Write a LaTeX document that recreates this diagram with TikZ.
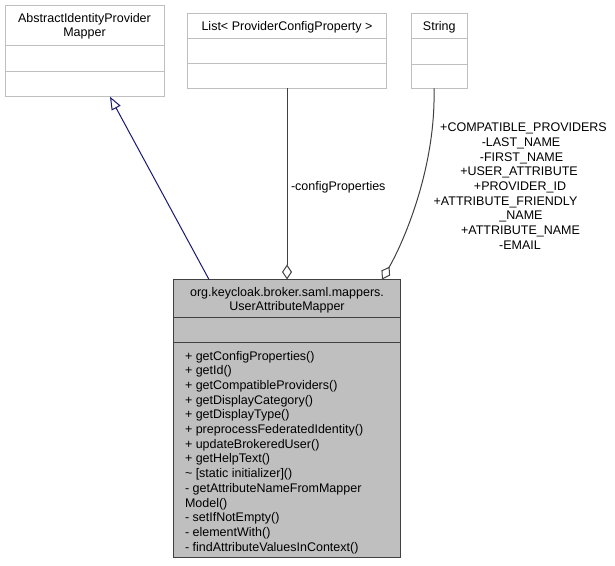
\documentclass[tikz,border=0pt]{standalone}
\usepackage{fontspec}
\setmainfont{Liberation Sans}
\usetikzlibrary{arrows.meta}
\definecolor{boxgray}{HTML}{BFBFBF}
\definecolor{darkline}{HTML}{404040}
\definecolor{inhblue}{HTML}{191970}
\begin{document}
\begin{tikzpicture}[x=1pt,y=-1pt,
  lbl/.style={inner sep=0pt, outer sep=0pt, font=\fontsize{12.5}{14.7}\selectfont},
  cls/.style={rectangle, draw=boxgray, fill=white, line width=1pt, inner sep=0pt, outer sep=0pt, anchor=north west},
  mainbox/.style={rectangle, draw=darkline, fill=boxgray, line width=1.6pt, inner sep=0pt, outer sep=0pt, anchor=north west},
  sep/.style={draw=boxgray, line width=1pt},
  mainsep/.style={draw=darkline, line width=1.4pt},
  inh/.style={draw=inhblue, line width=1pt, -{Triangle[length=13pt, width=10pt, fill=white]}},
  comp/.style={draw=darkline, line width=1pt, {Diamond[length=15pt, width=10pt, fill=white]}-},
]
\useasboundingbox (0,0) rectangle (615,565);

% class boxes
\node[cls, minimum width=159pt, minimum height=91.7pt] (abs) at (5,5) {};
\draw[sep] (abs.west |- 0,45.7) -- (abs.east |- 0,45.7);
\draw[sep] (abs.west |- 0,71) -- (abs.east |- 0,71);
\node[lbl, anchor=base] (absA) at (84.5,22) {AbstractIdentityProvider};
\node[lbl, anchor=base] (absB) at (84.5,36.7) {Mapper};

\node[cls, minimum width=199.4pt, minimum height=75pt] (list) at (187.3,13.3) {};
\draw[sep] (list.west |- 0,38.3) -- (list.east |- 0,38.3);
\draw[sep] (list.west |- 0,63.3) -- (list.east |- 0,63.3);
\node[lbl, anchor=base] (listA) at (287,30) {List< ProviderConfigProperty >};

\node[cls, minimum width=56.7pt, minimum height=75pt] (str) at (411,13.3) {};
\draw[sep] (str.west |- 0,38.3) -- (str.east |- 0,38.3);
\draw[sep] (str.west |- 0,64) -- (str.east |- 0,64);
\node[lbl, anchor=base] (strA) at (439.3,30) {String};

\node[mainbox, minimum width=227pt, minimum height=278pt] (main) at (173.5,279.5) {};
\draw[mainsep] (main.west |- 0,317.7) -- (main.east |- 0,317.7);
\draw[mainsep] (main.west |- 0,342.7) -- (main.east |- 0,342.7);
\node[lbl, anchor=base] (mainA) at (287,296) {org.keycloak.broker.saml.mappers.};
\node[lbl, anchor=base] (mainB) at (287,310.5) {UserAttributeMapper};

\foreach \t [count=\i from 0] in {
  {+ getConfigProperties()},
  {+ getId()},
  {+ getCompatibleProviders()},
  {+ getDisplayCategory()},
  {+ getDisplayType()},
  {+ preprocessFederatedIdentity()},
  {+ updateBrokeredUser()},
  {+ getHelpText()},
  {\textasciitilde{} [static initializer]()},
  {- getAttributeNameFromMapper},
  {Model()},
  {- setIfNotEmpty()},
  {- elementWith()},
  {- findAttributeValuesInContext()}}
  \node[lbl, anchor=base west] (m\i) at (185,{360+14.7*\i}) {\t};

% connectors
\draw[inh] (main.north -| 209,0) -- (abs.south -| 110,0);
\draw[comp] (main.north) -- (list.south);
\draw[comp] (main.north -| 382,0) .. controls (402,245) and (436,170) .. (str.south -| 434,0);

% labels
\node[lbl, anchor=base west] (cp) at (291,190.7) {-configProperties};
\node[lbl, anchor=base] (s1) at (523.5,131.7) {+COMPATIBLE\_PROVIDERS};
\node[lbl, anchor=base] (s2) at (521,146.4) {-LAST\_NAME};
\node[lbl, anchor=base] (s3) at (521.5,161) {-FIRST\_NAME};
\node[lbl, anchor=base] (s4) at (519,175.7) {+USER\_ATTRIBUTE};
\node[lbl, anchor=base] (s5) at (520,190.3) {+PROVIDER\_ID};
\node[lbl, anchor=base] (s6) at (505.5,205) {+ATTRIBUTE\_FRIENDLY};
\node[lbl, anchor=base] (s7) at (521,219.7) {\_NAME};
\node[lbl, anchor=base] (s8) at (520.5,234.3) {+ATTRIBUTE\_NAME};
\node[lbl, anchor=base] (s9) at (520,249) {-EMAIL};
\end{tikzpicture}
\end{document}
